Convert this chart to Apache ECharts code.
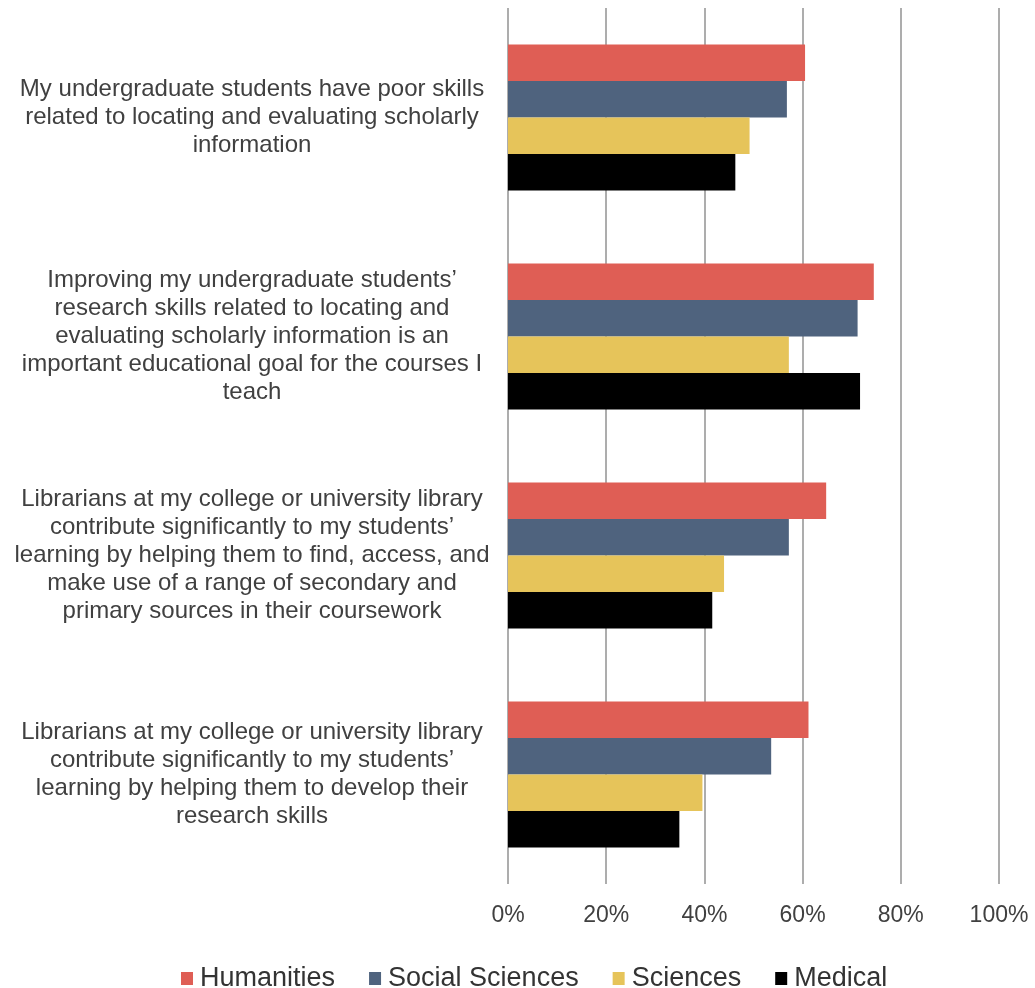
<!DOCTYPE html>
<html>
<head>
<meta charset="utf-8">
<script src="https://cdn.jsdelivr.net/npm/echarts@6/dist/echarts.min.js"></script>
<style>
  html, body { margin: 0; padding: 0; background: #fff; }
  #chart { width: 1035px; height: 988px; }
</style>
</head>
<body>
<div id="chart"></div>
<script>
// statements (y axis, top to bottom)
var categories = [
  "My undergraduate students have poor skills\nrelated to locating and evaluating scholarly\ninformation",
  "Improving my undergraduate students\u2019\nresearch skills related to locating and\nevaluating scholarly information is an\nimportant educational goal for the courses I\nteach",
  "Librarians at my college or university library\ncontribute significantly to my students\u2019\nlearning by helping them to find, access, and\nmake use of a range of secondary and\nprimary sources in their coursework",
  "Librarians at my college or university library\ncontribute significantly to my students\u2019\nlearning by helping them to develop their\nresearch skills"
];

// percent agreeing, per discipline
var humanities = [60.5, 74.5, 64.8, 61.2];
var socialSciences = [56.8, 71.2, 57.2, 53.6];
var sciences = [49.2, 57.2, 44.0, 39.6];
var medical = [46.3, 71.7, 41.6, 34.9];

var xTicks = [0, 20, 40, 60, 80, 100];

var font = "Liberation Sans, Arial, Helvetica, sans-serif";

var chart = echarts.init(document.getElementById("chart"));

function bar(name, data, color) {
  return {
    name: name,
    type: "bar",
    data: data,
    barGap: "0%",
    barCategoryGap: "33.3%",
    itemStyle: { color: color },
    emphasis: { disabled: true }
  };
}

chart.setOption({
  animation: false,
  textStyle: { fontFamily: font },
  grid: {
    left: 508,
    right: 36,
    top: 8,
    bottom: 104,
    containLabel: false
  },
  legend: {
    left: 176,
    top: 960,
    icon: "rect",
    itemWidth: 12,
    itemHeight: 13,
    itemGap: 34,
    textStyle: { fontSize: 27, color: "#333", fontFamily: font, padding: [0, 0, 0, 2] },
    data: ["Humanities", "Social Sciences", "Sciences", "Medical"]
  },
  xAxis: {
    type: "value",
    min: xTicks[0],
    max: xTicks[xTicks.length - 1],
    interval: 20,
    axisLine: { show: false },
    axisTick: { show: false },
    splitLine: { show: true, lineStyle: { color: "#999", width: 1.6 } },
    axisLabel: {
      formatter: "{value}%",
      fontSize: 23,
      color: "#404040",
      margin: 20,
      fontFamily: font
    }
  },
  yAxis: {
    type: "category",
    inverse: true,
    data: categories,
    axisLine: { show: false },
    axisTick: { show: false },
    axisLabel: {
      align: "center",
      margin: 256,
      fontSize: 24,
      lineHeight: 28,
      color: "#404040",
      fontFamily: font
    }
  },
  series: [
    bar("Humanities", humanities, "#df5e55"),
    bar("Social Sciences", socialSciences, "#4f637e"),
    bar("Sciences", sciences, "#e6c45a"),
    bar("Medical", medical, "#000000")
  ]
});
</script>
</body>
</html>
